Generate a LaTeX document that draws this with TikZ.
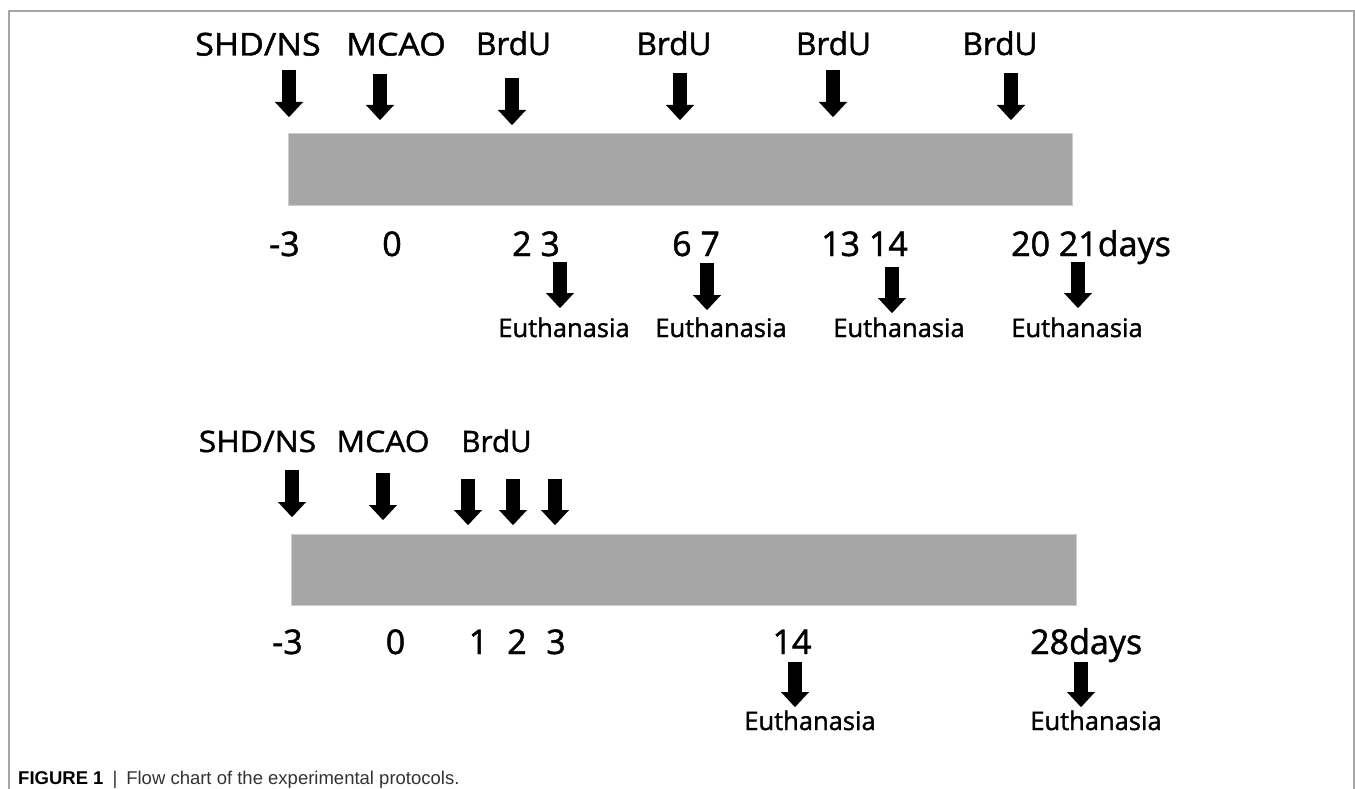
\documentclass[tikz,border=0pt]{standalone}
\usepackage{fontspec}
\setmainfont{Open Sans}[FakeBold=1.4]
\newfontfamily\widefont{Open Sans}[FakeStretch=1.08,FakeBold=1.4]
\newfontfamily\capfont{Liberation Sans}
\usetikzlibrary{arrows.meta}
\definecolor{bargray}{RGB}{165,166,165}
\definecolor{baredge}{RGB}{205,205,205}
\definecolor{framegray}{RGB}{165,165,165}
\tikzset{
  blk/.style={line width=14pt, black, -{Triangle[width=28pt,length=15pt,line width=0.01pt]}},
  timebar/.style={fill=bargray, draw=baredge, line width=0.8pt},
  evt/.style={anchor=base, inner sep=0pt, font=\fontsize{31.5}{31.5}\selectfont},
  evtwide/.style={evt, font=\widefont\fontsize{31.5}{31.5}\selectfont},
  evtb/.style={anchor=base, inner sep=0pt, font=\fontsize{29.5}{29.5}\selectfont},
  evtbwide/.style={evtb, font=\widefont\fontsize{29.5}{29.5}\selectfont},
  daynum/.style={anchor=base, inner sep=0pt, font=\fontsize{34}{34}\selectfont},
  daynumw/.style={daynum, anchor=base west},
  euth/.style={anchor=base, inner sep=0pt, font=\fontsize{25.5}{25.5}\selectfont},
}
\begin{document}
\begin{tikzpicture}[x=1pt,y=-1pt]
\useasboundingbox (0,0) rectangle (1355,789);
% panel frame
\draw[framegray, line width=1.4pt] (9,789) -- (9,11) -- (1354,11) -- (1354,789);

% ---------- first protocol ----------
\draw[timebar] (288,133) rectangle (1072,205);

\node[evtwide] (a-shd)  at (258,55.5) {SHD/NS};
\node[evtwide] (a-mcao) at (396,55.5) {MCAO};
\node[evt] (a-b1) at (513.5,55) {BrdU};
\node[evt] (a-b2) at (674,55) {BrdU};
\node[evt] (a-b3) at (833.5,55) {BrdU};
\node[evt] (a-b4) at (1000,55) {BrdU};

\coordinate (as1) at (289,70);   \coordinate (at1) at (289,117);
\coordinate (as2) at (380,74);   \coordinate (at2) at (380,120);
\coordinate (as3) at (512,78);   \coordinate (at3) at (512,125);
\coordinate (as4) at (680,73);   \coordinate (at4) at (680,120);
\coordinate (as5) at (833,70);   \coordinate (at5) at (833,117);
\coordinate (as6) at (1011,73);  \coordinate (at6) at (1011,120);
\foreach \i in {1,...,6} \draw[blk] (as\i) -- (at\i);

\node[daynum] (a-m3) at (284.5,256) {-3};
\node[daynum] (a-0)  at (392,256) {0};
\node[daynumw] (a-23)  at (512,256) {2 3};
\node[daynumw] (a-67)  at (672,256) {6 7};
\node[daynumw] (a-1314) at (821,256) {13 14};
\node[daynumw] (a-2021) at (1011,256) {20 21days};

\coordinate (ae1) at (560,262);  \coordinate (af1) at (560,308);
\coordinate (ae2) at (707,263);  \coordinate (af2) at (707,310);
\coordinate (ae3) at (892,267);  \coordinate (af3) at (892,313);
\coordinate (ae4) at (1078,262); \coordinate (af4) at (1078,308);
\foreach \i in {1,...,4} \draw[blk] (ae\i) -- (af\i);

\node[euth] (a-eu1) at (564,337) {Euthanasia};
\node[euth] (a-eu2) at (721,337) {Euthanasia};
\node[euth] (a-eu3) at (899,337) {Euthanasia};
\node[euth] (a-eu4) at (1077,337) {Euthanasia};

% ---------- second protocol ----------
\draw[timebar] (291,534) rectangle (1076,605);

\node[evtbwide] (b-shd)  at (257.5,452) {SHD/NS};
\node[evtbwide] (b-mcao) at (383,452) {MCAO};
\node[evtb] (b-brdu) at (496.5,452) {BrdU};

\coordinate (bs1) at (292,470);  \coordinate (bt1) at (292,517);
\coordinate (bs2) at (383,473);  \coordinate (bt2) at (383,520);
\coordinate (bs3) at (468,479);  \coordinate (bt3) at (468,525);
\coordinate (bs4) at (513,479);  \coordinate (bt4) at (513,525);
\coordinate (bs5) at (555,479);  \coordinate (bt5) at (555,525);
\foreach \i in {1,...,5} \draw[blk] (bs\i) -- (bt\i);

\node[daynum] (b-m3) at (287.5,654) {-3};
\node[daynum] (b-0)  at (395.5,654) {0};
\node[daynum] (b-1)  at (478.5,654) {1};
\node[daynum] (b-2)  at (517,654) {2};
\node[daynum] (b-3)  at (556,654) {3};
\node[daynum] (b-14) at (792,654) {14};
\node[daynumw] (b-28) at (1030,654) {28days};

\coordinate (be1) at (795,662);  \coordinate (bf1) at (795,707);
\coordinate (be2) at (1081,662); \coordinate (bf2) at (1081,707);
\foreach \i in {1,2} \draw[blk] (be\i) -- (bf\i);

\node[euth] (b-eu1) at (810,730) {Euthanasia};
\node[euth] (b-eu2) at (1096,730) {Euthanasia};

% ---------- caption ----------
\node[anchor=base west, inner sep=0pt, font=\capfont\fontsize{18.5}{18.5}\selectfont]
  (caption) at (18,784)
  {\textbf{FIGURE 1}\hspace{9pt}\textcolor{black!80}{|}\hspace{9pt}\textcolor{black!80}{Flow chart of the experimental protocols.}};
\end{tikzpicture}
\end{document}
